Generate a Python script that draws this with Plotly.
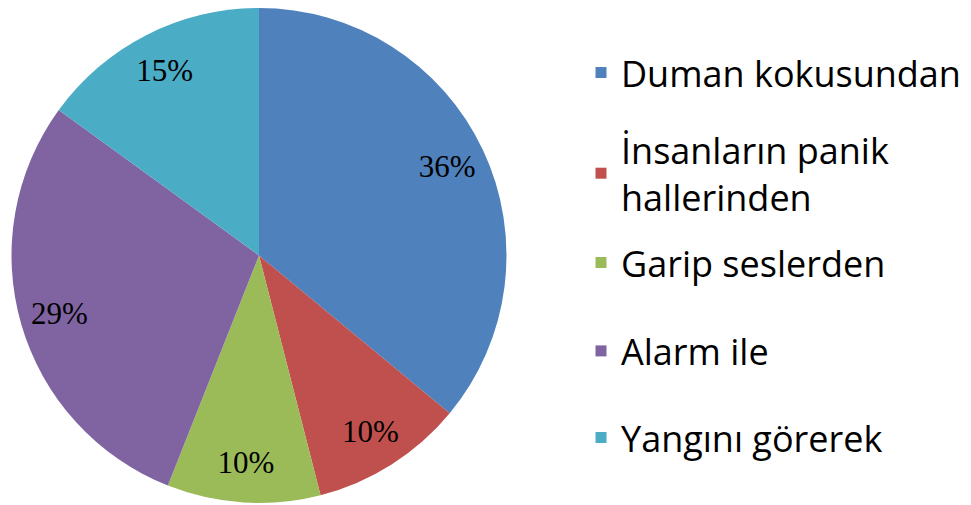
import plotly.graph_objects as go

categories = ["Duman kokusundan", "İnsanların panik<br>hallerinden", "Garip seslerden", "Alarm ile", "Yangını görerek"]
values = [36, 10, 10, 29, 15]
colors = ["#4F81BD", "#C0504D", "#9BBB59", "#8064A2", "#4BACC6"]

# the page body has an 8px margin, so the figure is sized to fit the window
W, H = 963, 497
OFF = 8  # page offset of the figure

# pie placement in figure pixels (radius 247.5, centre at page (259, 255.5))
cx, cy, r = 259 - OFF, 255.5 - OFF, 247.5
dom = dict(x=[(cx - r) / W, (cx + r) / W], y=[1 - (cy + r) / H, min(1.0, 1 - (cy - r) / H)])

fig = go.Figure()
fig.add_trace(go.Pie(
    labels=categories, values=values, sort=False, direction="clockwise", rotation=0,
    marker=dict(colors=colors, line=dict(width=0)),
    textinfo="none", showlegend=False, domain=dom, hoverinfo="label+value",
))
# label ring (transparent) to place percentages near the rim
fig.add_trace(go.Pie(
    labels=categories, values=values, sort=False, direction="clockwise", rotation=0,
    hole=0.68,
    marker=dict(colors=["rgba(0,0,0,0)"] * len(values), line=dict(width=0)),
    texttemplate="%{value}%", textposition="inside", insidetextorientation="horizontal",
    textfont=dict(family="Liberation Serif", size=31, color="black"),
    showlegend=False, domain=dom, hoverinfo="skip",
))

# legend entries (one legend per entry to reproduce the spacing)
legend_font = dict(family="Open Sans", size=36, color="black")
centers_page = [72.7, 173.4, 262.7, 351, 437.7]
layout_legends = {}
for i, (cat, col) in enumerate(zip(categories, colors)):
    name = "legend" if i == 0 else f"legend{i+1}"
    fig.add_trace(go.Scatter(
        x=[None], y=[None], mode="markers", name=cat,
        marker=dict(symbol="square", size=11, color=col),
        legend=name, showlegend=True, hoverinfo="skip",
    ))
    layout_legends[name] = dict(
        x=(622 - OFF - 41) / W, xanchor="left",
        y=1 - (centers_page[i] - OFF) / H, yanchor="middle",
        font=legend_font, bgcolor="rgba(0,0,0,0)", borderwidth=0,
        itemclick=False, itemdoubleclick=False,
    )

fig.update_layout(
    width=W, height=H, margin=dict(l=0, r=0, t=0, b=0),
    paper_bgcolor="white", plot_bgcolor="white",
    xaxis=dict(visible=False), yaxis=dict(visible=False),
    **layout_legends,
)
fig.write_html("out.html")
